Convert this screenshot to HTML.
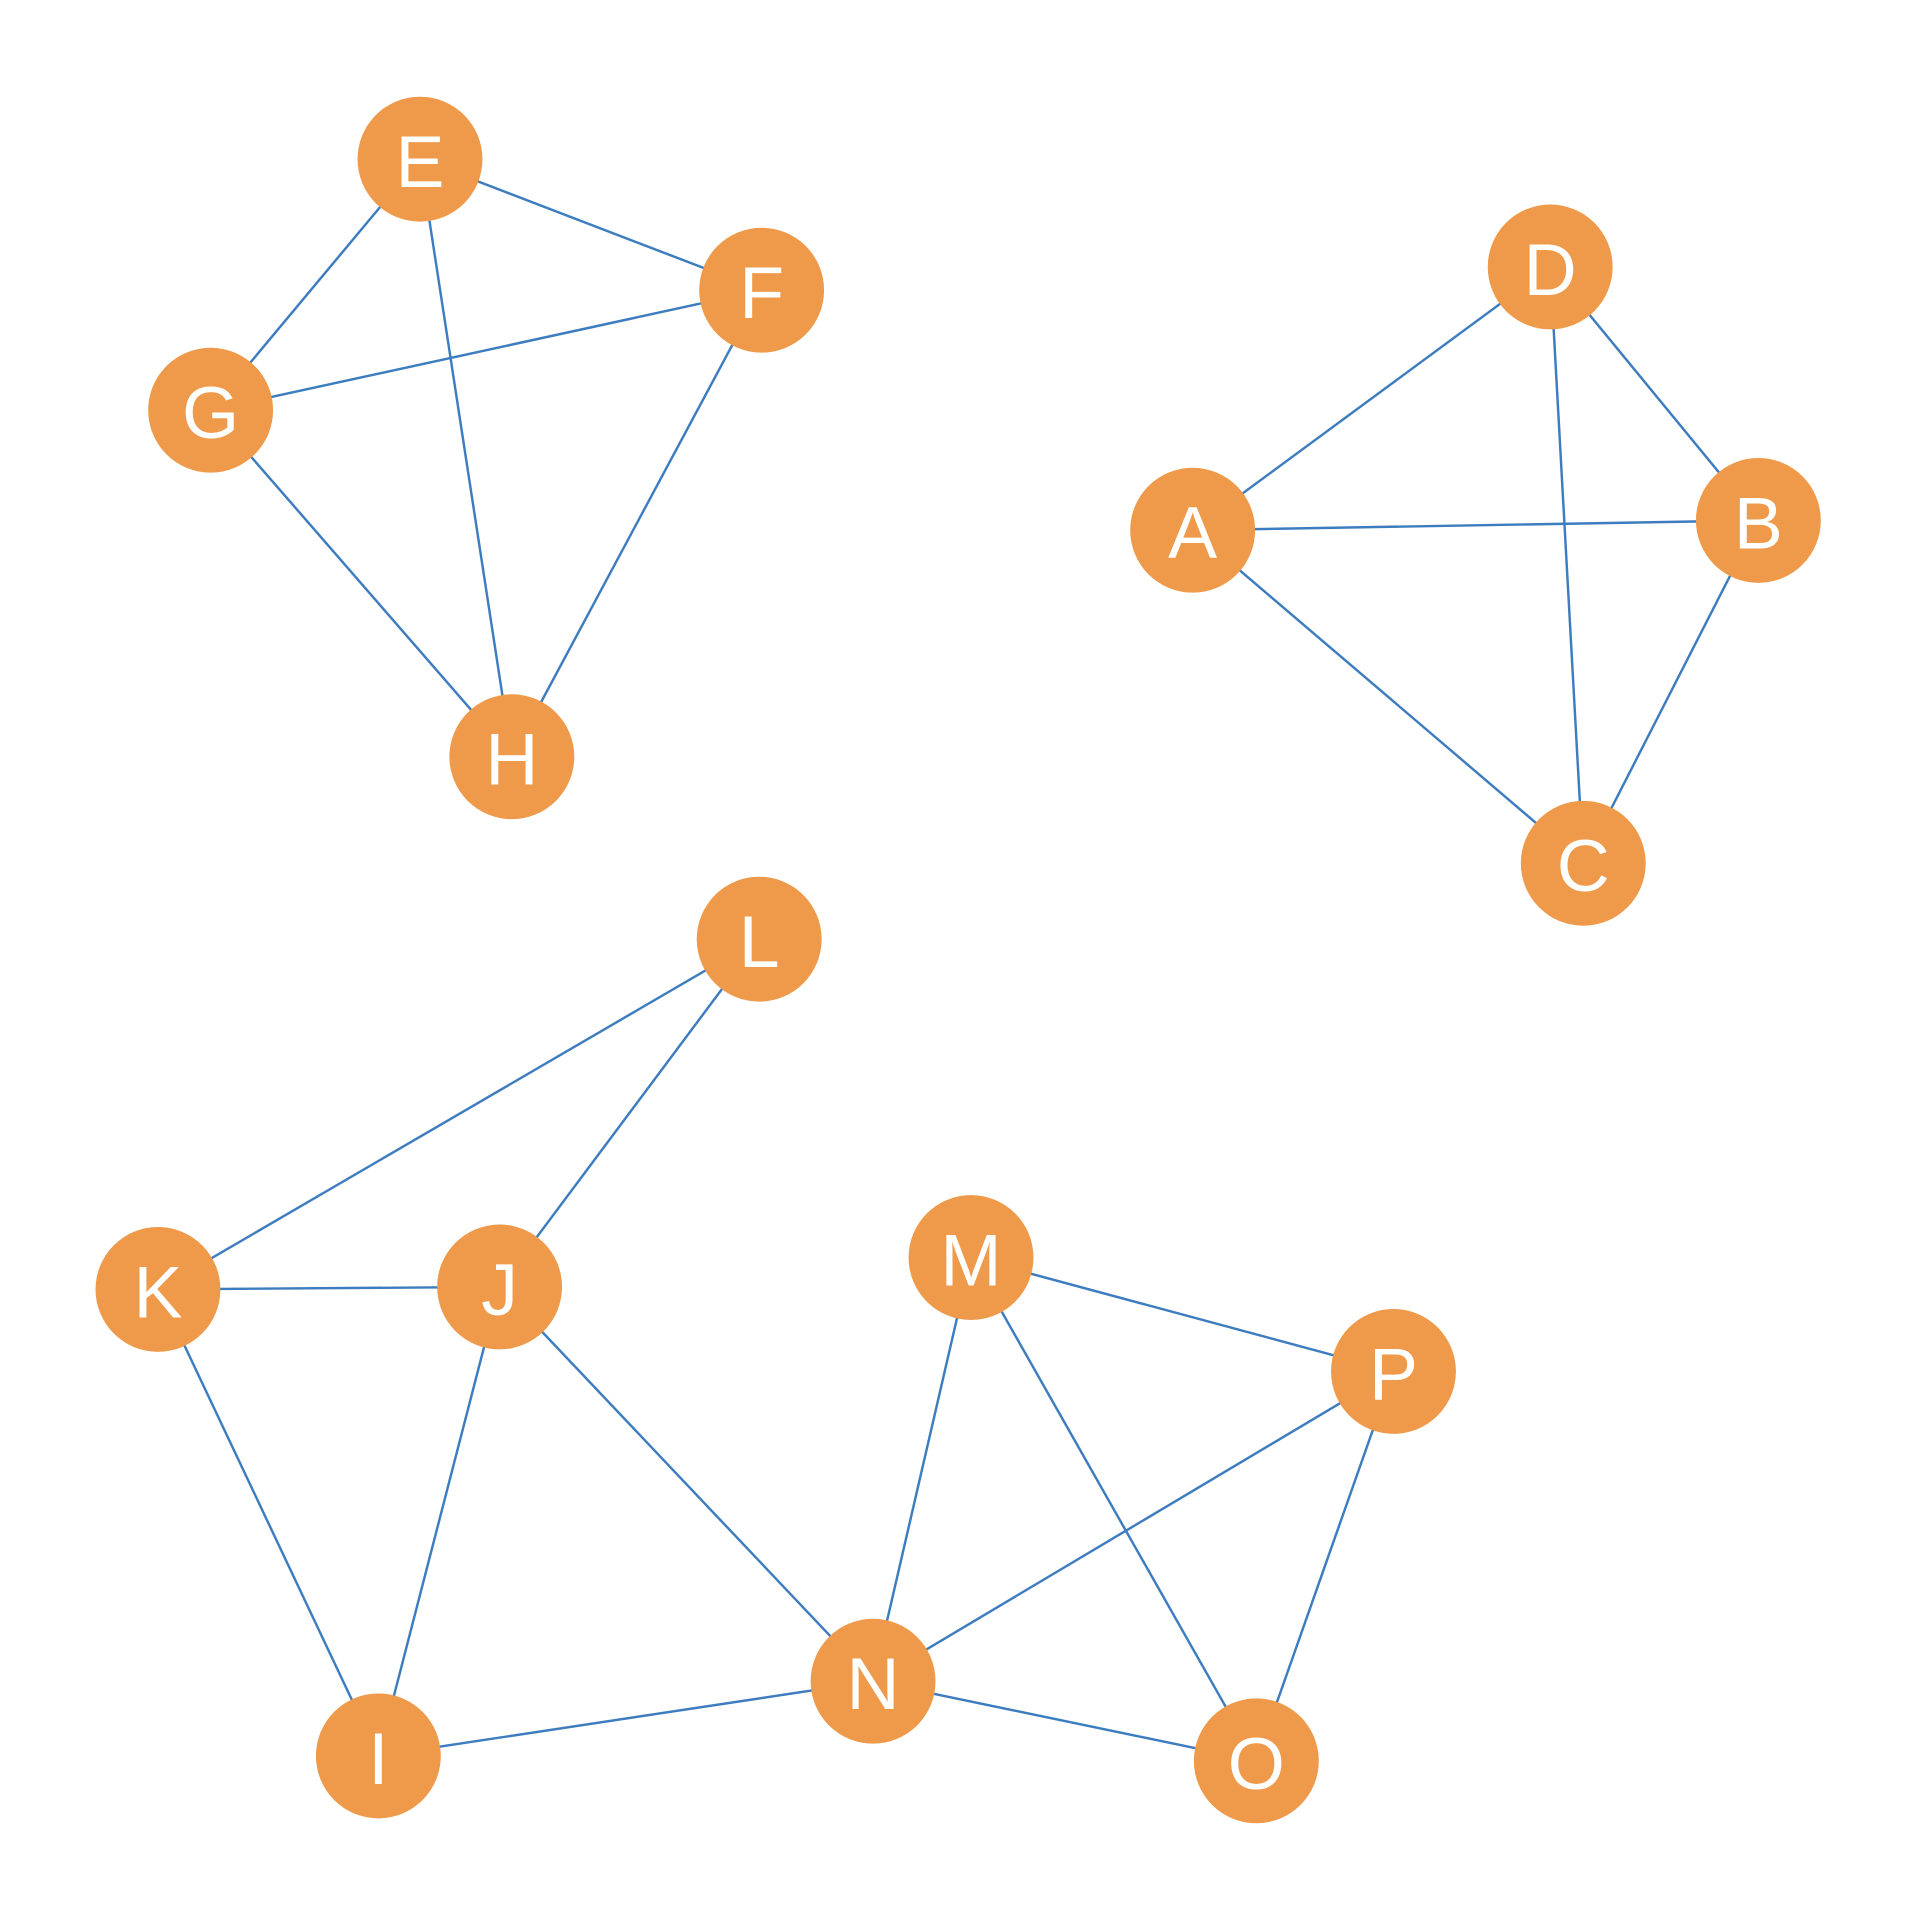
<!DOCTYPE html>
<html><head><meta charset="utf-8"><style>html,body{margin:0;padding:0;background:#fff}svg{display:block}</style></head>
<body>
<svg width="1920" height="1920" viewBox="0 0 1568 1568" xmlns="http://www.w3.org/2000/svg">
<g stroke="#3d7dbf" stroke-width="2" fill="none">
<line x1="343" y1="130" x2="622" y2="237"/>
<line x1="343" y1="130" x2="172" y2="335"/>
<line x1="343" y1="130" x2="418" y2="618"/>
<line x1="172" y1="335" x2="622" y2="237"/>
<line x1="172" y1="335" x2="418" y2="618"/>
<line x1="622" y1="237" x2="418" y2="618"/>
<line x1="1266" y1="218" x2="974" y2="433"/>
<line x1="1266" y1="218" x2="1436" y2="425"/>
<line x1="1266" y1="218" x2="1293" y2="705"/>
<line x1="974" y1="433" x2="1436" y2="425"/>
<line x1="974" y1="433" x2="1293" y2="705"/>
<line x1="1436" y1="425" x2="1293" y2="705"/>
<line x1="620" y1="767" x2="129" y2="1053"/>
<line x1="620" y1="767" x2="408" y2="1051"/>
<line x1="129" y1="1053" x2="408" y2="1051"/>
<line x1="129" y1="1053" x2="309" y2="1434"/>
<line x1="408" y1="1051" x2="309" y2="1434"/>
<line x1="408" y1="1051" x2="713" y2="1373"/>
<line x1="793" y1="1027" x2="713" y2="1373"/>
<line x1="793" y1="1027" x2="1138" y2="1120"/>
<line x1="793" y1="1027" x2="1026" y2="1438"/>
<line x1="1138" y1="1120" x2="713" y2="1373"/>
<line x1="1138" y1="1120" x2="1026" y2="1438"/>
<line x1="713" y1="1373" x2="309" y2="1434"/>
<line x1="713" y1="1373" x2="1026" y2="1438"/>
</g>
<g fill="#ee9a4a">
<circle cx="343" cy="130" r="51"/><circle cx="622" cy="237" r="51"/><circle cx="172" cy="335" r="51"/><circle cx="418" cy="618" r="51"/>
<circle cx="1266" cy="218" r="51"/><circle cx="974" cy="433" r="51"/><circle cx="1436" cy="425" r="51"/><circle cx="1293" cy="705" r="51"/>
<circle cx="620" cy="767" r="51"/><circle cx="129" cy="1053" r="51"/><circle cx="408" cy="1051" r="51"/><circle cx="793" cy="1027" r="51"/>
<circle cx="1138" cy="1120" r="51"/><circle cx="713" cy="1373" r="51"/><circle cx="309" cy="1434" r="51"/><circle cx="1026" cy="1438" r="51"/>
</g>
<g fill="#fff" font-family="Liberation Sans, sans-serif" font-size="60" text-anchor="middle" dominant-baseline="central">
<text x="343" y="132">E</text><text x="622" y="239">F</text><text x="172" y="337">G</text><text x="418" y="620">H</text>
<text x="1266" y="220">D</text><text x="974" y="435">A</text><text x="1436" y="427">B</text><text x="1293" y="707">C</text>
<text x="620" y="769">L</text><text x="129" y="1055">K</text><text x="408" y="1053">J</text><text x="793" y="1029">M</text>
<text x="1138" y="1122">P</text><text x="713" y="1375">N</text><text x="309" y="1436">I</text><text x="1026" y="1440">O</text>
</g>
</svg>
</body></html>
